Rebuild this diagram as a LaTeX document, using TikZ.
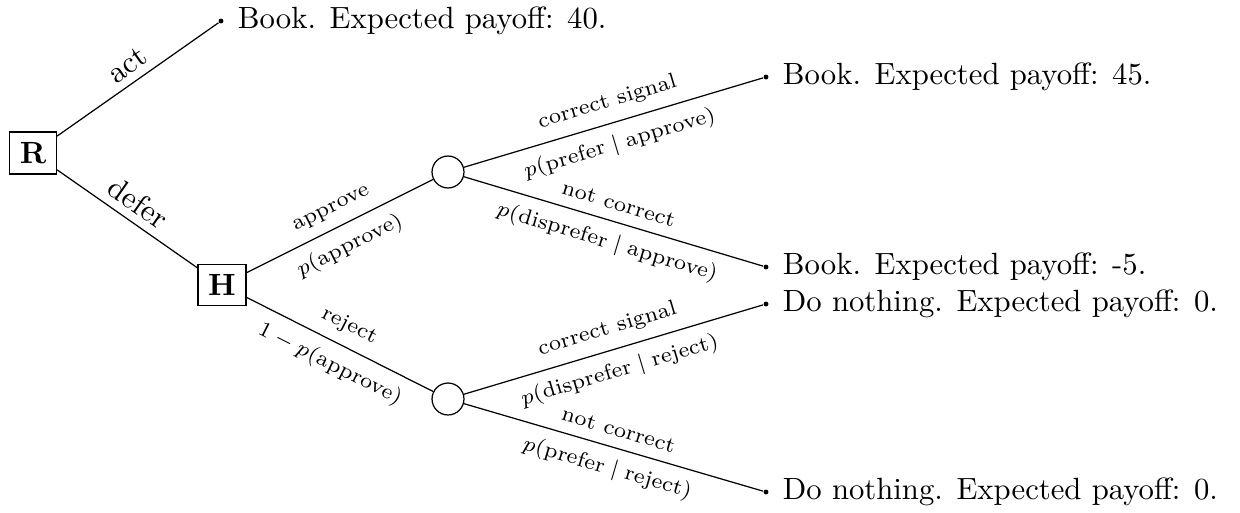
\documentclass[tikz,border=0pt]{standalone}
\usepackage{amsmath}
\begin{document}
\begin{tikzpicture}[x=0.3257pt,y=-0.3257pt,
  dec/.style={draw, rectangle, inner sep=3.33pt, font=\bfseries},
  chance/.style={draw, circle, minimum size=10.4pt, inner sep=0pt},
  leaf/.style={circle, fill, inner sep=0pt, minimum size=1.6pt},
  big/.style={sloped, font=\normalsize, inner sep=2.5pt},
  lab/.style={sloped, font=\scriptsize, inner sep=3.5pt},
  payoff/.style={label={[label distance=1pt]right:#1}}
]
\useasboundingbox (0,0) rectangle (1240,513);
\node[dec] (R) at (33,153) {R};
\node[dec] (H) at (222,285) {H};
\node[chance] (C1) at (448,172) {};
\node[chance] (C2) at (448,399) {};
\node[leaf, payoff={Book. Expected payoff: 40.}] (L0) at (221,21) {};
\node[leaf, payoff={Book. Expected payoff: 45.}] (L1) at (766,77) {};
\node[leaf, payoff={Book. Expected payoff: -5.}] (L2) at (766,267) {};
\node[leaf, payoff={Do nothing. Expected payoff: 0.}] (L3) at (766,304) {};
\node[leaf, payoff={Do nothing. Expected payoff: 0.}] (L4) at (766,492) {};
\draw (R) -- node[big, above] {act} (L0);
\draw (R) -- node[big, above] {defer} (H);
\draw (H) -- node[lab, above] {approve} node[lab, below] {$p(\text{approve})$} (C1);
\draw (H) -- node[lab, above] {reject} node[lab, below] {$1-p(\text{approve})$} (C2);
\draw (C1) -- node[lab, above] {correct signal} node[lab, below] {$p(\text{prefer} \mid \text{approve})$} (L1);
\draw (C1) -- node[lab, above] {not correct} node[lab, below] {$p(\text{disprefer} \mid \text{approve})$} (L2);
\draw (C2) -- node[lab, above] {correct signal} node[lab, below] {$p(\text{disprefer} \mid \text{reject})$} (L3);
\draw (C2) -- node[lab, above] {not correct} node[lab, below] {$p(\text{prefer} \mid \text{reject})$} (L4);
\end{tikzpicture}
\end{document}
